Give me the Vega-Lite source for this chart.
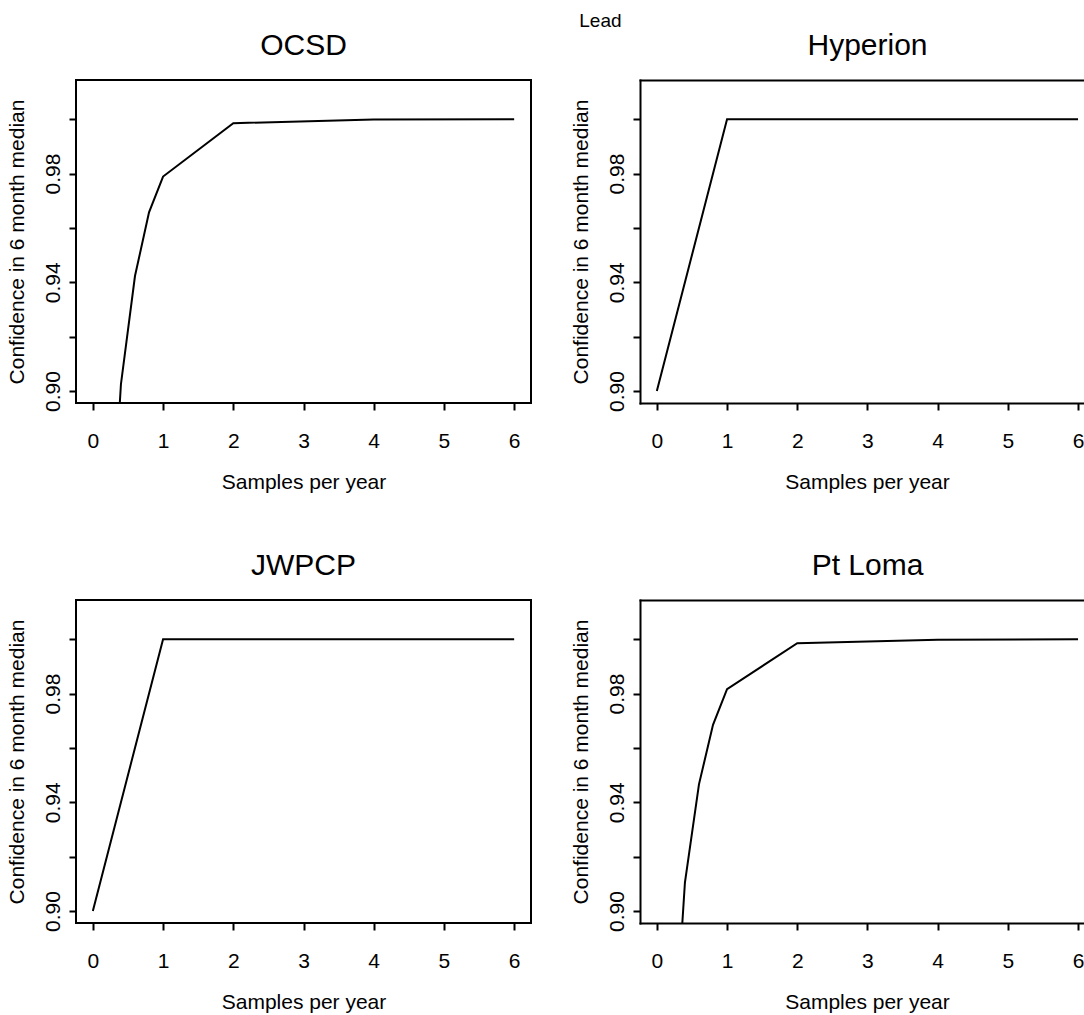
{
  "$schema": "https://vega.github.io/schema/vega-lite/v6.json",
  "background": "white",
  "padding": {"left": 5, "top": 12, "right": 0, "bottom": 0},
  "title": {"text": "Lead", "fontSize": 19, "fontWeight": "normal", "color": "black", "anchor": "middle", "dx": 56, "offset": -1},
  "datasets": {
    "lead": [
      {"site": "OCSD", "samples": 0.2, "confidence": 0.818},
      {"site": "OCSD", "samples": 0.4, "confidence": 0.9025},
      {"site": "OCSD", "samples": 0.6, "confidence": 0.9423},
      {"site": "OCSD", "samples": 0.8, "confidence": 0.9657},
      {"site": "OCSD", "samples": 1, "confidence": 0.9789},
      {"site": "OCSD", "samples": 2, "confidence": 0.9985},
      {"site": "OCSD", "samples": 4, "confidence": 0.9999},
      {"site": "OCSD", "samples": 6, "confidence": 1.0},
      {"site": "Hyperion", "samples": 0, "confidence": 0.9},
      {"site": "Hyperion", "samples": 1, "confidence": 1.0},
      {"site": "Hyperion", "samples": 2, "confidence": 1.0},
      {"site": "Hyperion", "samples": 4, "confidence": 1.0},
      {"site": "Hyperion", "samples": 6, "confidence": 1.0},
      {"site": "JWPCP", "samples": 0, "confidence": 0.9},
      {"site": "JWPCP", "samples": 1, "confidence": 1.0},
      {"site": "JWPCP", "samples": 2, "confidence": 1.0},
      {"site": "JWPCP", "samples": 4, "confidence": 1.0},
      {"site": "JWPCP", "samples": 6, "confidence": 1.0},
      {"site": "Pt Loma", "samples": 0.2, "confidence": 0.83},
      {"site": "Pt Loma", "samples": 0.4, "confidence": 0.9105},
      {"site": "Pt Loma", "samples": 0.6, "confidence": 0.9466},
      {"site": "Pt Loma", "samples": 0.8, "confidence": 0.9685},
      {"site": "Pt Loma", "samples": 1, "confidence": 0.9816},
      {"site": "Pt Loma", "samples": 2, "confidence": 0.9985},
      {"site": "Pt Loma", "samples": 4, "confidence": 0.9998},
      {"site": "Pt Loma", "samples": 6, "confidence": 1.0}
    ]
  },
  "data": {"name": "lead"},
  "columns": 2,
  "bounds": "flush",
  "spacing": {"row": 197, "column": 109},
  "config": {
    "font": "Liberation Sans",
    "view": {"stroke": "black", "strokeWidth": 2},
    "axis": {
      "domain": false, "grid": false, "ticks": true,
      "domainColor": "black", "domainWidth": 2, "domainCap": "square",
      "tickColor": "black", "tickSize": 7, "tickWidth": 2,
      "labelFontSize": 21, "labelColor": "black", "labelFont": "Liberation Sans",
      "titleFontSize": 21, "titleFontWeight": "normal", "titleColor": "black", "titleFont": "Liberation Sans"
    },
    "axisX": {"labelPadding": 20, "titlePadding": 20},
    "axisY": {"labelPadding": 10, "titlePadding": 15, "labelAngle": 270, "labelAlign": "center", "labelBaseline": "alphabetic"},
    "title": {"font": "Liberation Sans"}
  },
  "concat": [
    {
      "title": {"text": "OCSD", "fontSize": 30, "fontWeight": "normal", "color": "black", "anchor": "middle", "offset": 19},
      "width": 455, "height": 323,
      "transform": [{"filter": "datum.site === 'OCSD'"}],
      "mark": {"type": "line", "color": "black", "strokeWidth": 2, "clip": true},
      "encoding": {
        "x": {"field": "samples", "type": "quantitative", "scale": {"domain": [-0.24, 6.24], "nice": false, "zero": false}, "axis": {"values": [0, 1, 2, 3, 4, 5, 6], "title": "Samples per year"}},
        "y": {"field": "confidence", "type": "quantitative", "scale": {"domain": [0.8956, 1.0144], "nice": false, "zero": false}, "axis": {"values": [0.9, 0.92, 0.94, 0.96, 0.98, 1.0], "title": "Confidence in 6 month median", "labelExpr": "(abs(datum.value-0.92)<0.001 || abs(datum.value-0.96)<0.001 || abs(datum.value-1)<0.001) ? '' : format(datum.value, '.2f')"}}
      }
    },
    {
      "title": {"text": "Hyperion", "fontSize": 30, "fontWeight": "normal", "color": "black", "anchor": "middle", "offset": 19, "dx": 6},
      "width": 443, "height": 323,
      "view": {"stroke": null},
      "transform": [{"filter": "datum.site === 'Hyperion'"}],
      "resolve": {"axis": {"x": "independent"}},
      "layer": [
        {
          "mark": {"type": "line", "color": "black", "strokeWidth": 2, "clip": true},
          "encoding": {
            "x": {"field": "samples", "type": "quantitative", "scale": {"domain": [-0.24, 6.0706], "nice": false, "zero": false}, "axis": {"orient": "bottom", "domain": true, "values": [0, 1, 2, 3, 4, 5, 6], "title": "Samples per year", "titleX": 227}},
            "y": {"field": "confidence", "type": "quantitative", "scale": {"domain": [0.8956, 1.0144], "nice": false, "zero": false}, "axis": {"domain": true, "values": [0.9, 0.92, 0.94, 0.96, 0.98, 1.0], "title": "Confidence in 6 month median", "labelExpr": "(abs(datum.value-0.92)<0.001 || abs(datum.value-0.96)<0.001 || abs(datum.value-1)<0.001) ? '' : format(datum.value, '.2f')"}}
          }
        },
        {
          "mark": {"type": "line", "color": "black", "opacity": 0, "clip": true},
          "encoding": {
            "x": {"field": "samples", "type": "quantitative", "axis": {"orient": "top", "domain": true, "labels": false, "ticks": false, "title": null}},
            "y": {"field": "confidence", "type": "quantitative", "axis": {"domain": true, "values": [0.9, 0.92, 0.94, 0.96, 0.98, 1.0], "title": "Confidence in 6 month median", "labelExpr": "(abs(datum.value-0.92)<0.001 || abs(datum.value-0.96)<0.001 || abs(datum.value-1)<0.001) ? '' : format(datum.value, '.2f')"}}
          }
        }
      ]
    },
    {
      "title": {"text": "JWPCP", "fontSize": 30, "fontWeight": "normal", "color": "black", "anchor": "middle", "offset": 19},
      "width": 455, "height": 323,
      "transform": [{"filter": "datum.site === 'JWPCP'"}],
      "mark": {"type": "line", "color": "black", "strokeWidth": 2, "clip": true},
      "encoding": {
        "x": {"field": "samples", "type": "quantitative", "scale": {"domain": [-0.24, 6.24], "nice": false, "zero": false}, "axis": {"values": [0, 1, 2, 3, 4, 5, 6], "title": "Samples per year"}},
        "y": {"field": "confidence", "type": "quantitative", "scale": {"domain": [0.8956, 1.0144], "nice": false, "zero": false}, "axis": {"values": [0.9, 0.92, 0.94, 0.96, 0.98, 1.0], "title": "Confidence in 6 month median", "labelExpr": "(abs(datum.value-0.92)<0.001 || abs(datum.value-0.96)<0.001 || abs(datum.value-1)<0.001) ? '' : format(datum.value, '.2f')"}}
      }
    },
    {
      "title": {"text": "Pt Loma", "fontSize": 30, "fontWeight": "normal", "color": "black", "anchor": "middle", "offset": 19, "dx": 6},
      "width": 443, "height": 323,
      "view": {"stroke": null},
      "transform": [{"filter": "datum.site === 'Pt Loma'"}],
      "resolve": {"axis": {"x": "independent"}},
      "layer": [
        {
          "mark": {"type": "line", "color": "black", "strokeWidth": 2, "clip": true},
          "encoding": {
            "x": {"field": "samples", "type": "quantitative", "scale": {"domain": [-0.24, 6.0706], "nice": false, "zero": false}, "axis": {"orient": "bottom", "domain": true, "values": [0, 1, 2, 3, 4, 5, 6], "title": "Samples per year", "titleX": 227}},
            "y": {"field": "confidence", "type": "quantitative", "scale": {"domain": [0.8956, 1.0144], "nice": false, "zero": false}, "axis": {"domain": true, "values": [0.9, 0.92, 0.94, 0.96, 0.98, 1.0], "title": "Confidence in 6 month median", "labelExpr": "(abs(datum.value-0.92)<0.001 || abs(datum.value-0.96)<0.001 || abs(datum.value-1)<0.001) ? '' : format(datum.value, '.2f')"}}
          }
        },
        {
          "mark": {"type": "line", "color": "black", "opacity": 0, "clip": true},
          "encoding": {
            "x": {"field": "samples", "type": "quantitative", "axis": {"orient": "top", "domain": true, "labels": false, "ticks": false, "title": null}},
            "y": {"field": "confidence", "type": "quantitative", "axis": {"domain": true, "values": [0.9, 0.92, 0.94, 0.96, 0.98, 1.0], "title": "Confidence in 6 month median", "labelExpr": "(abs(datum.value-0.92)<0.001 || abs(datum.value-0.96)<0.001 || abs(datum.value-1)<0.001) ? '' : format(datum.value, '.2f')"}}
          }
        }
      ]
    }
  ]
}
